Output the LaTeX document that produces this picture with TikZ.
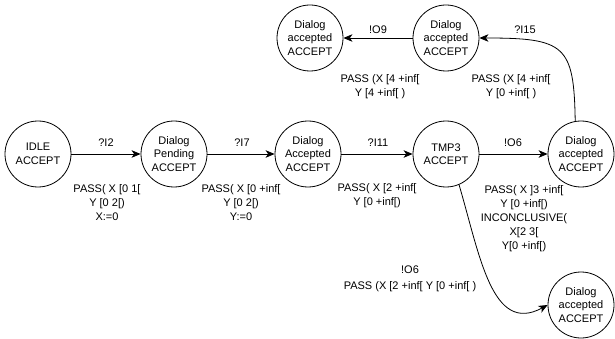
\documentclass[tikz,border=0pt]{standalone}
\usepackage{fontspec}
\setmainfont{Liberation Sans}
\usetikzlibrary{arrows.meta}
\begin{document}
\begin{tikzpicture}[x=1pt,y=-1pt,
  st/.style={circle, draw, line width=0.8pt, minimum size=66pt, inner sep=0pt, align=center, font=\fontsize{11}{13.5}\selectfont},
  lbl/.style={align=center, inner sep=0pt, font=\fontsize{11}{14}\selectfont},
  tr/.style={draw, line width=0.8pt, -{Stealth[length=9pt,width=7.5pt,inset=2.5pt]}}]
\useasboundingbox (0,0) rectangle (615,339);
% states
\node[st] (idle) at (38,154) {IDLE\\ACCEPT};
\node[st] (pend) at (174,154) {Dialog\\Pending\\ACCEPT};
\node[st] (acc) at (308,154) {Dialog\\Accepted\\ACCEPT};
\node[st] (tmp) at (446,154) {TMP3\\ACCEPT};
\node[st] (r1) at (581,154) {Dialog\\accepted\\ACCEPT};
\node[st] (t2) at (446,38) {Dialog\\accepted\\ACCEPT};
\node[st] (t1) at (310,38) {Dialog\\accepted\\ACCEPT};
\node[st] (r2) at (581,305) {Dialog\\accepted\\ACCEPT};
% transitions
\draw[tr] (idle) -- (pend);
\draw[tr] (pend) -- (acc);
\draw[tr] (acc) -- (tmp);
\draw[tr] (tmp) -- (r1);
\draw[tr] (t2) -- (t1);
\draw[tr] (r1.100) .. controls (574,45) and (565,38) .. (t2.east);
\draw[tr] (tmp.-67) .. controls (480,256) and (492,335) .. (r2.west);
% labels
\node[lbl] (l1) at (106,143) {?I2};
\node[lbl] (g1) at (107,203) {PASS( X [0 1[\\Y [0 2[)\\X:=0};
\node[lbl] (l2) at (242,143) {?I7};
\node[lbl] (g2) at (241,203) {PASS( X [0 +inf[\\Y [0 2[)\\Y:=0};
\node[lbl] (l3) at (378,143) {?I11};
\node[lbl] (g3) at (377,196) {PASS( X [2 +inf[\\Y [0 +inf[)};
\node[lbl] (l4) at (513,143) {!O6};
\node[lbl] (g4) at (524,219) {PASS( X ]3 +inf[\\Y [0 +inf[)\\INCONCLUSIVE(\\X[2 3[\\Y[0 +inf[)};
\node[lbl] (l5) at (378,30) {!O9};
\node[lbl] (g5) at (380,87) {PASS (X [4 +inf[\\Y [4 +inf[ )};
\node[lbl] (l6) at (525,30) {?I15};
\node[lbl] (g6) at (511,87) {PASS (X [4 +inf[\\Y [0 +inf[ )};
\node[lbl] (l7) at (410,270) {!O6};
\node[lbl] (g7) at (410,287) {PASS (X [2 +inf[ Y [0 +inf[ )};
\end{tikzpicture}
\end{document}
